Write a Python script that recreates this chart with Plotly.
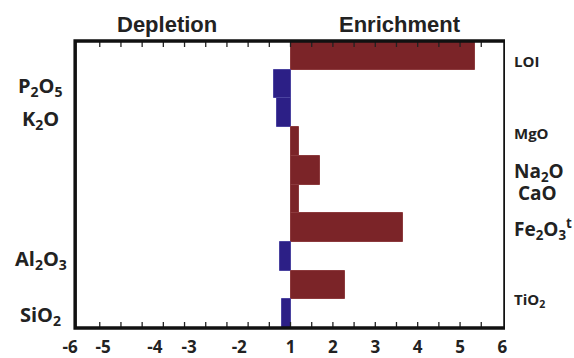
import plotly.graph_objects as go

# ---- data ----
categories = ["LOI", "P2O5", "K2O", "MgO", "Na2O", "CaO", "Fe2O3t", "Al2O3", "TiO2", "SiO2"]
category_labels = ["LOI", "P<sub>2</sub>O<sub>5</sub>", "K<sub>2</sub>O", "MgO", "Na<sub>2</sub>O", "CaO",
                   "Fe<sub>2</sub>O<sub>3</sub><sup>t</sup>", "Al<sub>2</sub>O<sub>3</sub>", "TiO<sub>2</sub>",
                   "SiO<sub>2</sub>"]
# bar end position on the chart's horizontal scale (centre line = 1)
values = [5.35, 0.60, 0.69, 1.20, 1.70, 1.20, 3.65, 0.75, 2.29, 0.80]
baseline = 1
xtick_vals = [-4.20, -3.42, -2.20, -1.39, -0.21, 1, 2, 3, 4, 5, 6]
xtick_text = ["-6", "-5", "-4", "-3", "-2", "1", "2", "3", "4", "5", "6"]
minor_tick_vals = [baseline + 0.5 * k for k in range(-9, 10)]
side_titles = ["Depletion", "Enrichment"]

# ---- layout tweaks (label placement / sizes) ----
label_dy = [0.2, 0.1, 0.25, -0.29, 0.06, -0.2, 0.05, 0.13, 0.52, 0.05]
label_size = [15, 20, 20, 15, 19, 19, 19, 20, 15, 20]
label_dx = [0, 0, 0, 0, 0, 0.01, 0, 0, 0, 0]

RED = "#7b2428"
BLUE = "#2c1f86"
rows = list(range(len(categories)))
lengths = [v - baseline for v in values]
colors = [RED if L > 0 else BLUE for L in lengths]
edges = ["#8c3a3d" if L > 0 else "#4b43a0" for L in lengths]

fig = go.Figure()
fig.add_trace(go.Bar(
    y=rows, x=lengths, base=baseline, orientation="h",
    marker=dict(color=colors, line=dict(color=edges, width=1)),
    width=1, hoverinfo="skip", showlegend=False,
))

xr = [-4.32, 6.06]
fig.update_layout(
    template="none",
    width=574, height=358,
    margin=dict(l=65, r=69, t=41, b=30, pad=0),
    paper_bgcolor="white", plot_bgcolor="white",
    bargap=0, hovermode=False,
    xaxis=dict(range=xr, tickmode="array", tickvals=xtick_vals, ticktext=xtick_text,
               ticks="", showgrid=False, zeroline=False, showline=False, automargin=False,
               ticklabelstandoff=7,
               tickfont=dict(family="Open Sans", size=17, color="#222222", weight="bold")),
    yaxis=dict(range=[len(categories) - 0.5, -0.5], showticklabels=False, ticks="",
               showgrid=False, zeroline=False, showline=False, automargin=False),
)

# small inside tick marks along the top and bottom of the frame
tick_h = 6 / 287
for v in minor_tick_vals:
    for y0, y1 in [(0, tick_h), (1 - tick_h, 1)]:
        fig.add_shape(type="line", xref="x", yref="paper", x0=v, x1=v, y0=y0, y1=y1,
                      line=dict(color="#222222", width=1.3), layer="above")

# frame
fig.add_shape(type="rect", xref="x", yref="paper", x0=-4.08, x1=6.06, y0=0, y1=1,
              line=dict(color="#111111", width=3.5), layer="above")

# side titles
for txt, xp in zip(side_titles, [0.232, 0.761]):
    fig.add_annotation(text=txt, xref="paper", yref="paper", x=xp, y=1.058,
                       showarrow=False, xanchor="center", yanchor="middle",
                       font=dict(family="Liberation Sans", size=22, color="#222222", weight="bold"))

# category labels: depleted ones on the left, enriched on the right
for r, lab, L, dy, sz, dx in zip(rows, category_labels, lengths, label_dy, label_size, label_dx):
    if L < 0:
        fig.add_annotation(text=lab, xref="paper", yref="y", x=-0.055 + dx, y=r + dy,
                           showarrow=False, xanchor="center", yanchor="middle",
                           font=dict(family="Open Sans", size=sz, color="#222222", weight="bold"))
    else:
        fig.add_annotation(text=lab, xref="paper", yref="y", x=1.016 + dx, y=r + dy,
                           showarrow=False, xanchor="left", yanchor="middle",
                           font=dict(family="Open Sans", size=sz, color="#222222", weight="bold"))

fig.write_html("out.html", config={"displayModeBar": False},
               post_script="document.body.style.margin='0';document.body.style.overflow='hidden';")
